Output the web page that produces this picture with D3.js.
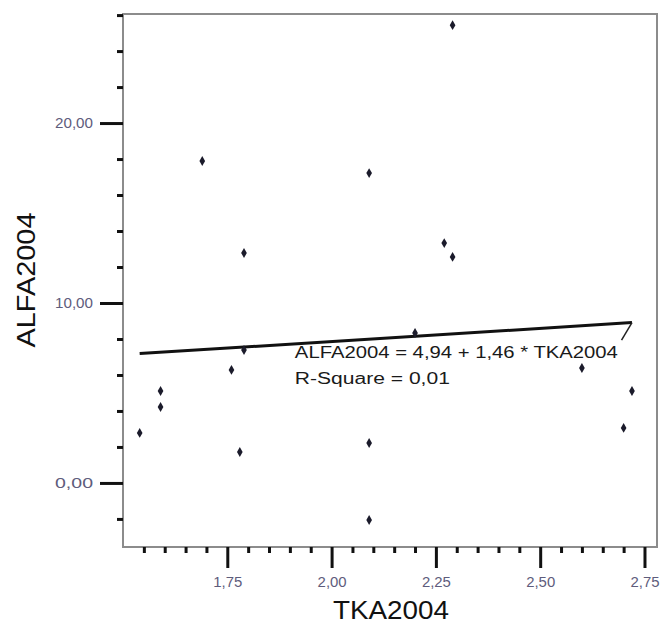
<!DOCTYPE html>
<html>
<head>
<meta charset="utf-8">
<script src="https://cdn.jsdelivr.net/npm/d3@7"></script>
<style>
  html, body { margin: 0; padding: 0; background: #fff; }
  svg { display: block; }
  text { font-family: "Liberation Sans", Arial, sans-serif; }
</style>
</head>
<body>
<svg id="chart" width="662" height="634"></svg>
<script>
// TKA2004 vs ALFA2004 observations
const tka2004 = [1.54, 1.59, 1.59, 1.69, 1.76, 1.78, 1.79, 1.79, 2.09, 2.09, 2.09, 2.20, 2.27, 2.29, 2.29, 2.60, 2.70, 2.72];
const alfa2004 = [2.78, 5.11, 4.22, 17.89, 6.28, 1.72, 7.39, 12.78, 17.22, 2.22, -2.06, 8.33, 13.33, 12.56, 25.44, 6.39, 3.06, 5.11];

// Linear fit: ALFA2004 = b0 + b1 * TKA2004
const fitIntercept = 4.94;
const fitSlope = 1.46;
const rSquare = 0.01;

// Axis ticks
const xMajorTicks = [1.75, 2.00, 2.25, 2.50, 2.75];
const xMinorTicks = [1.55, 1.60, 1.65, 1.70, 1.80, 1.85, 1.90, 1.95, 2.05, 2.10, 2.15, 2.20, 2.30, 2.35, 2.40, 2.45, 2.55, 2.60, 2.65, 2.70];
const yMajorTicks = [0, 10, 20];
const yMinorTicks = [-2, 2, 4, 6, 8, 12, 14, 16, 18, 22, 24, 26];

const xTitle = "TKA2004";
const yTitle = "ALFA2004";

const comma = v => d3.format(".2f")(v).replace(".", ",");

const svg = d3.select("#chart");
const plot = { left: 123, right: 657, top: 14, bottom: 547 };

const x = d3.scaleLinear().domain([1.5, 2.78]).range([plot.left, plot.right]);
const y = d3.scaleLinear().domain([-3.56, 26.06]).range([plot.bottom, plot.top]);

// Plot frame
svg.append("rect")
  .attr("x", plot.left).attr("y", plot.top)
  .attr("width", plot.right - plot.left).attr("height", plot.bottom - plot.top)
  .attr("fill", "none").attr("stroke", "#8c8c8c").attr("stroke-width", 2);

function styleAxis(g, width) {
  g.select(".domain").remove();
  g.selectAll(".tick line").attr("stroke", "#111").attr("stroke-width", width);
  g.selectAll(".tick text")
    .attr("fill", "#5e5c7c")
    .style("font-size", "14px")
    .style("font-family", "'Liberation Sans', Arial, sans-serif");
}

// Y axis
svg.append("g").attr("transform", `translate(${plot.left},0)`)
  .call(d3.axisLeft(y).tickValues(yMinorTicks).tickSize(6).tickFormat(""))
  .call(g => styleAxis(g, 3));
svg.append("g").attr("transform", `translate(${plot.left},0)`)
  .call(d3.axisLeft(y).tickValues(yMajorTicks).tickSize(23).tickPadding(7).tickFormat(comma))
  .call(g => styleAxis(g, 3))
  .call(g => g.selectAll(".tick text").attr("textLength", 38).attr("lengthAdjust", "spacingAndGlyphs"));

// X axis
svg.append("g").attr("transform", `translate(0,${plot.bottom})`)
  .call(d3.axisBottom(x).tickValues(xMinorTicks).tickSize(6).tickFormat(""))
  .call(g => styleAxis(g, 3));
svg.append("g").attr("transform", `translate(0,${plot.bottom})`)
  .call(d3.axisBottom(x).tickValues(xMajorTicks).tickSize(21).tickPadding(9).tickFormat(comma))
  .call(g => styleAxis(g, 3))
  .call(g => g.selectAll(".tick text").attr("textLength", 29).attr("lengthAdjust", "spacingAndGlyphs"));

// Axis titles
svg.append("text")
  .attr("x", 391).attr("y", 619)
  .attr("text-anchor", "middle")
  .attr("fill", "#111")
  .style("font-size", "25px")
  .attr("textLength", 116).attr("lengthAdjust", "spacingAndGlyphs")
  .text(xTitle);

svg.append("text")
  .attr("transform", "translate(35,280) rotate(-90)")
  .attr("text-anchor", "middle")
  .attr("fill", "#111")
  .style("font-size", "25px")
  .attr("textLength", 135).attr("lengthAdjust", "spacingAndGlyphs")
  .text(yTitle);

// Fit line over the observed TKA2004 range
const [xMin, xMax] = d3.extent(tka2004);
const fit = v => fitIntercept + fitSlope * v;
svg.append("line")
  .attr("x1", x(xMin)).attr("y1", y(fit(xMin)))
  .attr("x2", x(xMax)).attr("y2", y(fit(xMax)))
  .attr("stroke", "#111").attr("stroke-width", 3);

// Leader from the fit line to its equation
svg.append("line")
  .attr("x1", x(xMax)).attr("y1", y(fit(xMax)))
  .attr("x2", x(2.695)).attr("y2", y(7.94))
  .attr("stroke", "#222").attr("stroke-width", 1.5);

// Observations
const sym = d3.symbol().type(d3.symbolDiamond).size(28);
svg.append("g").selectAll("path")
  .data(tka2004.map((v, i) => [v, alfa2004[i]]))
  .join("path")
  .attr("transform", d => `translate(${x(d[0])},${y(d[1])})`)
  .attr("d", sym)
  .attr("fill", "#1b1b2b");

// Equation label
const eqX = x(1.912);
svg.append("text")
  .attr("x", eqX).attr("y", y(6.95))
  .attr("fill", "#1a1a1a")
  .style("font-size", "16px")
  .attr("textLength", 323).attr("lengthAdjust", "spacingAndGlyphs")
  .text(`${yTitle} = ${comma(fitIntercept)} + ${comma(fitSlope)} * ${xTitle}`);
svg.append("text")
  .attr("x", eqX).attr("y", y(5.5))
  .attr("fill", "#1a1a1a")
  .style("font-size", "16px")
  .attr("textLength", 155).attr("lengthAdjust", "spacingAndGlyphs")
  .text(`R-Square = ${comma(rSquare)}`);
</script>
</body>
</html>
